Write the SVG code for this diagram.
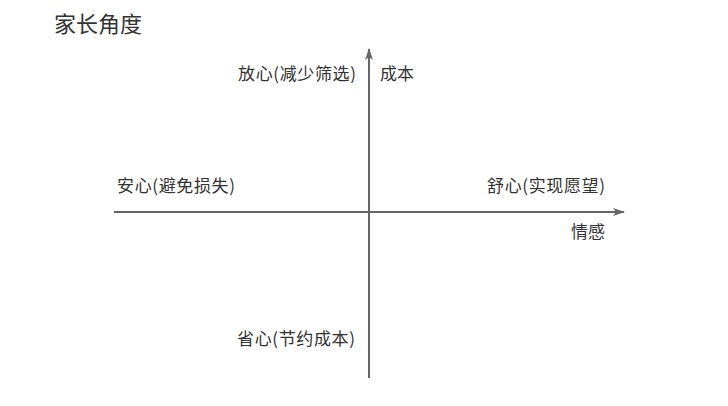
<svg xmlns="http://www.w3.org/2000/svg" width="728" height="406" viewBox="0 0 728 406">
<style>
text{font-family:"Noto Sans CJK SC","Noto Sans",sans-serif;fill:#333;}
.lbl{font-size:17px;}
.title{font-size:22px;}
.axis{stroke:#666;stroke-width:2;fill:none;}
</style>
<defs>
<marker id="arr" viewBox="0 0 12 10" refX="11" refY="5" markerWidth="12" markerHeight="10" markerUnits="userSpaceOnUse" orient="auto">
<path d="M0,1 L12,5 L0,9 L3,5 Z" fill="#666"/>
</marker>
</defs>
<rect width="728" height="406" fill="#fff"/>
<g id="title"><text class="title" x="54" y="32">家长角度</text></g>
<g id="connectors">
<line class="axis" x1="114" y1="212" x2="624" y2="212" marker-end="url(#arr)"/>
<line class="axis" x1="369" y1="378" x2="369" y2="49" marker-end="url(#arr)"/>
</g>
<g id="node-fangxin"><text class="lbl" x="238" y="80" textLength="118" lengthAdjust="spacing">放心(减少筛选)</text></g>
<g id="node-chengben"><text class="lbl" x="380" y="80">成本</text></g>
<g id="node-anxin"><text class="lbl" x="117" y="192" textLength="118" lengthAdjust="spacing">安心(避免损失)</text></g>
<g id="node-shuxin"><text class="lbl" x="487" y="192" textLength="118" lengthAdjust="spacing">舒心(实现愿望)</text></g>
<g id="node-qinggan"><text class="lbl" x="571" y="238">情感</text></g>
<g id="node-shengxin"><text class="lbl" x="237" y="345" textLength="118" lengthAdjust="spacing">省心(节约成本)</text></g>
</svg>
